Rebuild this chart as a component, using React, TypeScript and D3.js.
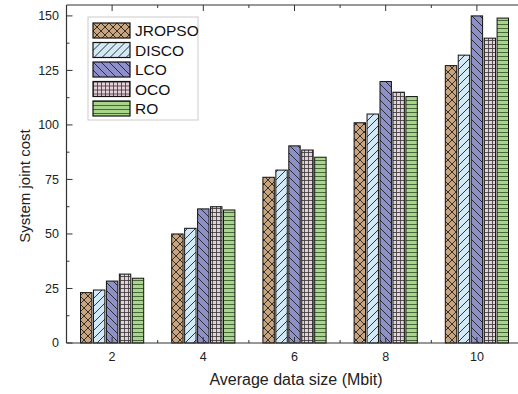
import React from "react";
import * as d3 from "d3";

const categories = [2, 4, 6, 8, 10];
const seriesNames = ["JROPSO", "DISCO", "LCO", "OCO", "RO"];
const jropso = [23.1, 50, 76, 101, 127.2];
const disco = [24.3, 52.6, 79.3, 105, 132];
const lco = [28.4, 61.5, 90.4, 119.9, 150];
const oco = [31.6, 62.5, 88.5, 115, 139.8];
const ro = [29.7, 61, 85.2, 113, 149];
const yTicks = [0, 25, 50, 75, 100, 125, 150];
const xTicks = [2, 4, 6, 8, 10];

const seriesValues = [jropso, disco, lco, oco, ro];
const fills = ["#c9a47e", "#d3e9f5", "#8d90c9", "#e7cfd9", "#a9d48b"];
const patIds = ["pJ", "pD", "pL", "pO", "pR"];

export default function App() {
  const W = 518, H = 394;
  const x = d3.scaleLinear().domain([1, 11]).range([66.5, 522.5]);
  const y = d3.scaleLinear().domain([0, 155]).range([343, 5]);
  const step = 0.284;
  const bw = 0.25;
  const font = "Liberation Sans, Arial, sans-serif";
  const minorY = d3.range(12.5, 155, 25);
  const minorX = [3, 5, 7, 9];
  const topTicks = d3.range(2, 12, 1);

  return (
    <svg width={W} height={H} style={{ position: "absolute", left: 0, top: 0 }} fontFamily={font}>
      <defs>
        <pattern id="pJ" patternUnits="userSpaceOnUse" width={8} height={8}>
          <rect width={8} height={8} fill={fills[0]} />
          <path d="M0,0L8,8M8,0L0,8" stroke="#222" strokeWidth={0.9} />
        </pattern>
        <pattern id="pD" patternUnits="userSpaceOnUse" width={8} height={8}>
          <rect width={8} height={8} fill={fills[1]} />
          <path d="M-2,2L2,-2M0,8L8,0M6,10L10,6" stroke="#222" strokeWidth={0.9} />
        </pattern>
        <pattern id="pL" patternUnits="userSpaceOnUse" width={8} height={8}>
          <rect width={8} height={8} fill={fills[2]} />
          <path d="M-2,6L2,10M0,0L8,8M6,-2L10,2" stroke="#222" strokeWidth={0.9} />
        </pattern>
        <pattern id="pO" patternUnits="userSpaceOnUse" width={4} height={4}>
          <rect width={4} height={4} fill={fills[3]} />
          <path d="M0,0.5H4M0.5,0V4" stroke="#333" strokeWidth={0.8} />
        </pattern>
        <pattern id="pR" patternUnits="userSpaceOnUse" width={4} height={4}>
          <rect width={4} height={4} fill={fills[4]} />
          <path d="M0,0.5H4" stroke="#3d5a30" strokeWidth={0.9} />
        </pattern>
      </defs>

      {seriesValues.map((vals, si) =>
        vals.map((v, ci) => {
          const cx = categories[ci] + (si - 2) * step;
          const x0 = x(cx - bw / 2);
          const x1 = x(cx + bw / 2);
          return (
            <rect
              key={`${si}-${ci}`}
              x={x0}
              y={y(v)}
              width={x1 - x0}
              height={y(0) - y(v)}
              fill={`url(#${patIds[si]})`}
              stroke="#111"
              strokeWidth={1}
            />
          );
        })
      )}

      {/* axes */}
      <g stroke="#333" strokeWidth={1.2} fill="none">
        <line x1={x(1)} x2={W} y1={y(0)} y2={y(0)} />
        <line x1={x(1)} x2={W} y1={y(155)} y2={y(155)} />
        <line x1={x(1)} x2={x(1)} y1={y(0)} y2={y(155)} />
      </g>
      <g stroke="#333" strokeWidth={1}>
        {yTicks.map((t) => (
          <line key={t} x1={x(1)} x2={x(1) + 6} y1={y(t)} y2={y(t)} />
        ))}
        {minorY.map((t) => (
          <line key={t} x1={x(1)} x2={x(1) + 3} y1={y(t)} y2={y(t)} />
        ))}
        {xTicks.map((t) => (
          <line key={t} x1={x(t)} x2={x(t)} y1={y(0)} y2={y(0) - 6} />
        ))}
        {minorX.map((t) => (
          <line key={t} x1={x(t)} x2={x(t)} y1={y(0)} y2={y(0) - 3} />
        ))}
        {topTicks.map((t) => (
          <line key={t} x1={x(t)} x2={x(t)} y1={y(155)} y2={y(155) + (t % 2 === 0 ? 6 : 3)} />
        ))}
      </g>

      {yTicks.map((t) => (
        <text key={t} x={59} y={y(t)} dy="0.35em" textAnchor="end" fontSize={12.5} fill="#222">
          {t}
        </text>
      ))}
      {xTicks.map((t) => (
        <text key={t} x={x(t)} y={361} textAnchor="middle" fontSize={12.5} fill="#222">
          {t}
        </text>
      ))}
      <text x={296} y={385} textAnchor="middle" fontSize={16} fill="#222">
        Average data size (Mbit)
      </text>
      <text
        transform={`translate(30,186) rotate(-90)`}
        textAnchor="middle"
        fontSize={15}
        fill="#222"
      >
        System joint cost
      </text>

      {/* legend */}
      <rect x={88} y={17} width={110} height={103} fill="#fff" stroke="#ccc" strokeWidth={1} />
      {seriesNames.map((n, i) => (
        <g key={n} transform={`translate(93,${23 + i * 19.5})`}>
          <rect width={37} height={15} fill={`url(#${patIds[i]})`} stroke="#111" strokeWidth={1.2} />
          <text x={42} y={7.5} dy="0.36em" fontSize={15.5} fill="#111">
            {n}
          </text>
        </g>
      ))}
    </svg>
  );
}
